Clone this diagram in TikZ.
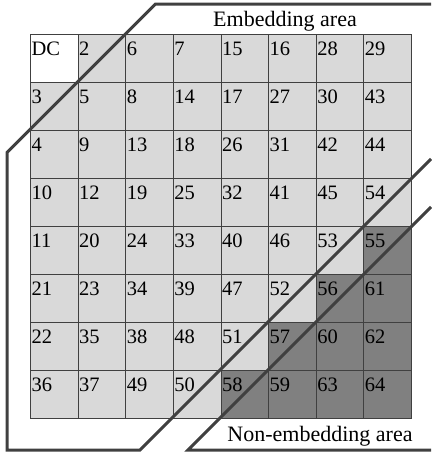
\documentclass[tikz,border=0pt]{standalone}
\usepackage{fontspec}
\setmainfont{Liberation Serif}
\definecolor{lightcell}{HTML}{D9D9D9}
\definecolor{darkcell}{HTML}{808080}
\definecolor{edgegray}{HTML}{404040}
\begin{document}
\begin{tikzpicture}[x=1pt,y=-1pt,
  cellbox/.style={draw=edgegray, line width=0.8pt, minimum width=47.625pt, minimum height=48pt, inner sep=0pt, anchor=north west},
  numtext/.style={anchor=base west, inner sep=0pt, font=\fontsize{20.5}{22}\selectfont},
  areatext/.style={anchor=base, inner sep=0pt, font=\fontsize{22}{24}\selectfont},
  boundary/.style={draw=edgegray, line width=3pt, line join=miter}]
\useasboundingbox (0,0) rectangle (431,455);
\foreach \row/\labels in {0/{DC,2,6,7,15,16,28,29},
                          1/{3,5,8,14,17,27,30,43},
                          2/{4,9,13,18,26,31,42,44},
                          3/{10,12,19,25,32,41,45,54},
                          4/{11,20,24,33,40,46,53,55},
                          5/{21,23,34,39,47,52,56,61},
                          6/{22,35,38,48,51,57,60,62},
                          7/{36,37,49,50,58,59,63,64}}{
  \foreach \lab [count=\col from 0] in \labels {
    \def\cellfill{lightcell}
    \ifnum\numexpr\row+\col\relax>10 \def\cellfill{darkcell}\fi
    \ifnum\numexpr\row+\col\relax=0 \def\cellfill{white}\fi
    \node[cellbox, fill=\cellfill] (c\row\col) at ({30+47.625*\col},{34+48*\row}) {};
    \node[numtext] (t\row\col) at ([shift={(1.4,21)}]c\row\col.north west) {\lab};
  }
}
% area boundaries
\coordinate (e1) at (431,4);
\coordinate (e2) at (155.6,4);
\coordinate (e3) at (7,152.6);
\coordinate (e4) at (7,450);
\coordinate (e5) at (140,450);
\coordinate (e6) at (431,159);
\draw[boundary] (e1) -- (e2) -- (e3) -- (e4) -- (e5) -- (e6);
\coordinate (n1) at (431,450);
\coordinate (n2) at (188,450);
\coordinate (n3) at (431,207);
\draw[boundary] (n1) -- (n2) -- (n3);
\node[areatext] (emb) at (285,26.5) {Embedding area};
\node[areatext] (nonemb) at (320,441.5) {Non-embedding area};
\end{tikzpicture}
\end{document}
